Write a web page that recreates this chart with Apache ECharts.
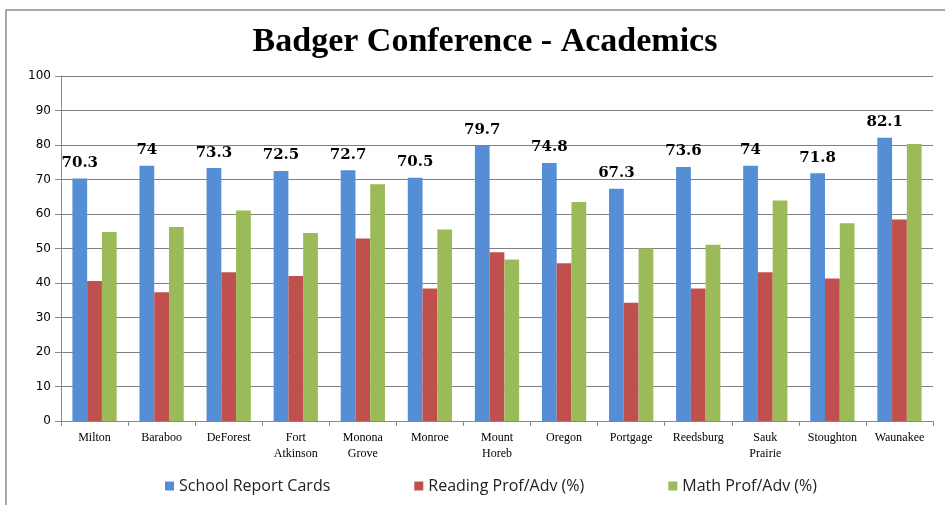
<!DOCTYPE html>
<html>
<head>
<meta charset="utf-8">
<style>
  html, body { margin: 0; padding: 0; background: #fff; }
  #chart { width: 945px; height: 505px; }
</style>
<script src="https://cdn.jsdelivr.net/npm/echarts@6/dist/echarts.min.js"></script>
</head>
<body>
<div id="chart"></div>
<script>
// 学校名
var schools = ['Milton', 'Baraboo', 'DeForest', 'Fort\nAtkinson', 'Monona\nGrove', 'Monroe',
  'Mount\nHoreb', 'Oregon', 'Portgage', 'Reedsburg', 'Sauk\nPrairie', 'Stoughton', 'Waunakee']
var reportCards = [70.3, 74, 73.3, 72.5, 72.7, 70.5, 79.7, 74.8, 67.3, 73.6, 74, 71.8, 82.1]
var readingProf = [40.6, 37.3, 43.1, 42.0, 52.9, 38.4, 48.9, 45.7, 34.3, 38.4, 43.1, 41.3, 58.4]
var mathProf = [54.8, 56.2, 61.0, 54.5, 68.6, 55.5, 46.8, 63.5, 50.0, 51.1, 63.9, 57.3, 80.3]
var seriesNames = ['School Report Cards', 'Reading Prof/Adv (%)', 'Math Prof/Adv (%)']

var myChart = echarts.init(document.getElementById('chart'))

var option = {
  animation: false,
  backgroundColor: '#fff',
  graphic: [{
    type: 'rect',
    shape: { x: 6, y: 10, width: 1000, height: 1000 },
    style: { fill: 'none', stroke: '#8c8c8c', lineWidth: 1.5 },
    silent: true
  }],
  title: {
    text: 'Badger Conference - Academics',
    left: 480,
    textAlign: 'center',
    top: 20,
    textStyle: {
      fontFamily: 'Liberation Serif',
      fontWeight: 'bold',
      fontSize: 34,
      color: '#000'
    }
  },
  legend: {
    data: seriesNames,
    bottom: 6,
    left: 160,
    itemWidth: 9,
    itemHeight: 9,
    itemGap: 84,
    icon: 'rect',
    textStyle: { fontFamily: 'Open Sans', fontSize: 16, color: '#222' }
  },
  grid: { left: 61, right: 12, top: 76, bottom: 84, containLabel: false },
  xAxis: {
    type: 'category',
    data: schools,
    axisLine: { lineStyle: { color: '#888' } },
    axisTick: { show: true, alignWithLabel: false, length: 5, lineStyle: { color: '#888' } },
    axisLabel: {
      interval: 0,
      margin: 9,
      fontFamily: 'Liberation Serif',
      fontSize: 12,
      lineHeight: 16,
      color: '#000'
    }
  },
  yAxis: {
    type: 'value',
    min: 0,
    max: 100,
    interval: 10,
    axisLine: { show: true, lineStyle: { color: '#888' } },
    axisTick: { show: true, length: 6, lineStyle: { color: '#888' } },
    axisLabel: { fontFamily: 'DejaVu Sans', fontSize: 12, color: '#000', margin: 10 },
    splitLine: { lineStyle: { color: '#808080', width: 1 } }
  },
  series: [{
    name: seriesNames[0],
    type: 'bar',
    data: reportCards,
    barGap: '0%',
    barCategoryGap: '34%',
    itemStyle: { color: '#558ed5' },
    label: {
      show: true,
      position: 'top',
      distance: 8,
      fontFamily: 'DejaVu Serif',
      fontWeight: 'bold',
      fontSize: 15,
      color: '#000'
    }
  }, {
    name: seriesNames[1],
    type: 'bar',
    data: readingProf,
    itemStyle: { color: '#c0504d' }
  }, {
    name: seriesNames[2],
    type: 'bar',
    data: mathProf,
    itemStyle: { color: '#9bbb59' }
  }]
}

myChart.setOption(option)
</script>
</body>
</html>
